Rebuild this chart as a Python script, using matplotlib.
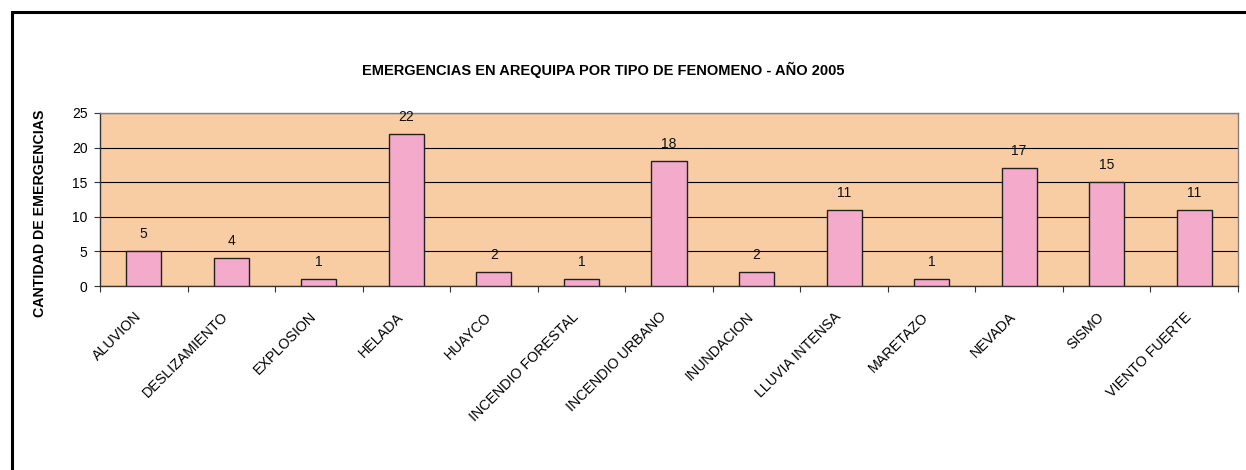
import matplotlib
matplotlib.use("Agg")
import matplotlib.pyplot as plt
import matplotlib.patches as mpatches
import numpy as np

categories = ["ALUVION", "DESLIZAMIENTO", "EXPLOSION", "HELADA", "HUAYCO",
              "INCENDIO FORESTAL", "INCENDIO URBANO", "INUNDACION",
              "LLUVIA INTENSA", "MARETAZO", "NEVADA", "SISMO", "VIENTO FUERTE"]
values = [5, 4, 1, 22, 2, 1, 18, 2, 11, 1, 17, 15, 11]
yticks = [0, 5, 10, 15, 20, 25]

title = "EMERGENCIAS EN AREQUIPA POR TIPO DE FENOMENO - AÑO 2005"
ylabel = "CANTIDAD DE EMERGENCIAS"

plt.rcParams['font.family'] = ['Liberation Sans', 'DejaVu Sans']

W, H = 1246, 470
fig = plt.figure(figsize=(W / 100, H / 100), dpi=100)
fig.patch.set_facecolor('white')

# outer chart frame (clipped on right and bottom like the reference)
frame = mpatches.Rectangle((12 / W, -0.2), 1.2, (H - 12) / H + 0.2,
                           transform=fig.transFigure, fill=False,
                           lw=2.2, ec='black', clip_on=False)
fig.patches.append(frame)

ax = fig.add_axes([100 / W, 1 - 286 / H, (1238 - 100) / W, (286 - 113) / H])
ax.set_facecolor('#F8CDA4')

x = np.arange(len(categories))
ax.bar(x, values, width=0.4, color='#F4AACA', edgecolor='#222222', lw=1.0, zorder=3)

for xi, v in zip(x, values):
    ax.annotate(str(v), (xi, v), xytext=(0, 12.2), textcoords='offset points',
                ha='center', va='center', fontsize=10, color='#111111', zorder=4)

ax.set_xlim(-0.5, len(categories) - 0.5)
ax.set_ylim(0, 25)
ax.set_yticks(yticks)
ax.yaxis.grid(True, color='black', lw=0.8)
ax.set_axisbelow(True)

ax.set_xticks(x)
ax.set_xticklabels(categories, rotation=45, ha='right', fontsize=10.3)
ax.set_xticks(np.arange(len(categories) + 1) - 0.5, minor=True)
ax.tick_params(axis='x', which='major', length=0, pad=17)
ax.tick_params(axis='x', which='minor', length=4, width=0.8, color='#333333')
ax.tick_params(axis='y', length=4, width=0.8, pad=5, labelsize=10, color='#333333')

for s in ['top', 'right']:
    ax.spines[s].set_color('#808080')
    ax.spines[s].set_linewidth(1.0)
for s in ['left', 'bottom']:
    ax.spines[s].set_color('#333333')
    ax.spines[s].set_linewidth(1.0)

fig.text(603 / W, 1 - 70 / H, title, ha='center', va='center',
         fontsize=10.5, fontweight='bold')
fig.text(40 / W, 1 - 213 / H, ylabel, ha='center', va='center', rotation=90,
         fontsize=10.2, fontweight='bold')

fig.savefig('out.png', dpi=100)
